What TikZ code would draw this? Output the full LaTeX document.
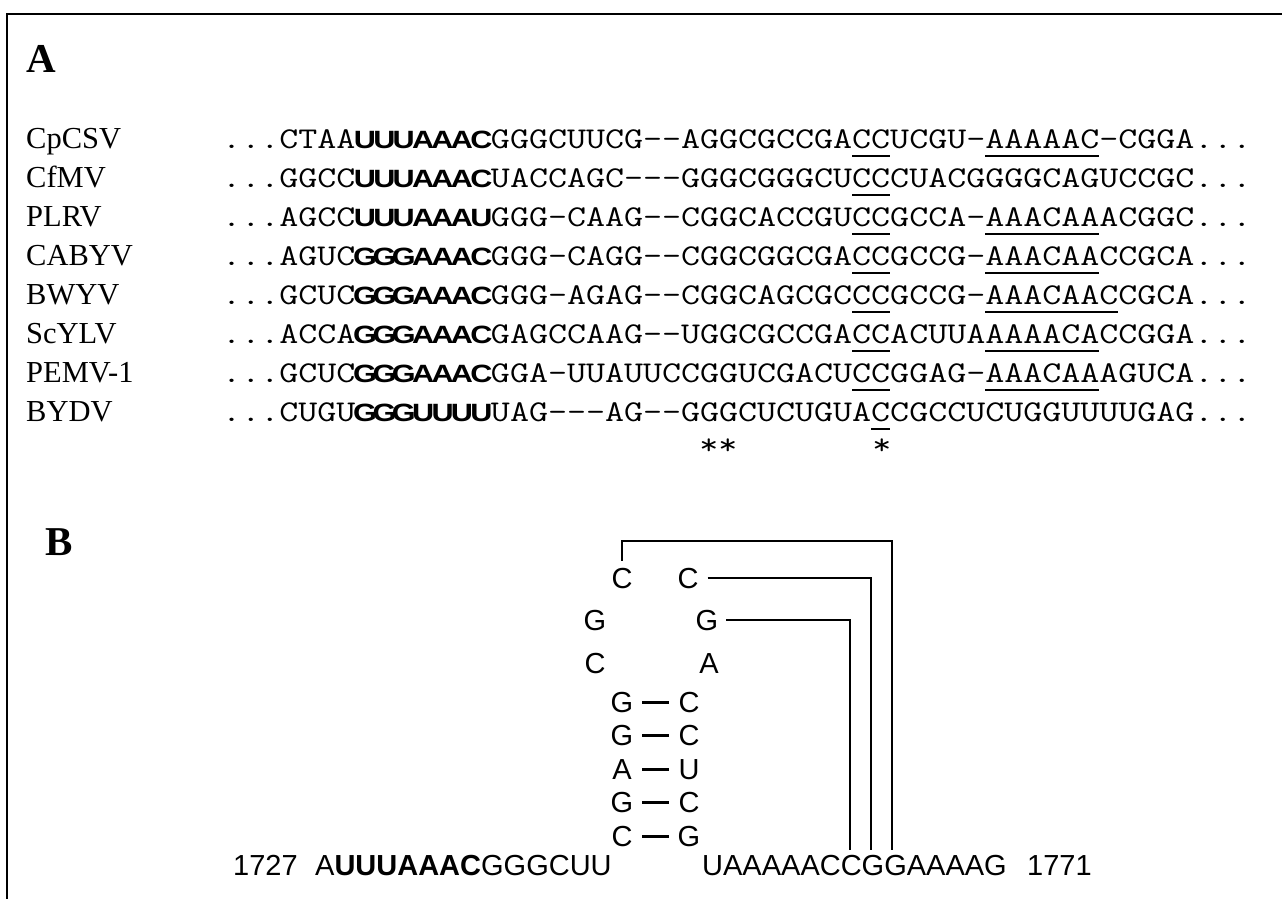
\documentclass[tikz,border=0pt]{standalone}
\usepackage{fontspec}
\setmainfont{Liberation Serif}
\setsansfont{Liberation Sans}
\newcommand\seqfnt{\ttfamily\fontsize{30.16}{36}\selectfont}
\newcommand\bc[1]{\makebox[15.834pt][c]{\sffamily\bfseries\fontsize{25}{30}\selectfont#1}}
\def\bs#1{\ifx#1\relax\else\bc{#1}\expandafter\bs\fi}
\newcommand\ul[1]{\setbox0\hbox{#1}\rlap{\rule[-8.5pt]{\wd0}{1.8pt}}\box0}
\begin{document}
\begin{tikzpicture}[x=1pt,y=-1pt,
 nm/.style={anchor=base west,inner sep=0pt,font=\fontsize{30.5}{36}\selectfont},
 sq/.style={anchor=base west,inner sep=0pt,font=\seqfnt,xscale=1.224,transform shape},
 lab/.style={anchor=base west,inner sep=0pt,font=\fontsize{41}{48}\selectfont\bfseries},
 nt/.style={anchor=base,inner sep=0pt,font=\sffamily\fontsize{29}{34}\selectfont},
 pl/.style={nt,minimum width=22pt},
 bp/.style={line width=3pt,shorten <=9pt,shorten >=9pt},
 br/.style={line width=1.3pt},
 frame/.style={line width=2.5pt}]
\useasboundingbox (0,0) rectangle (1282,898);
\draw[frame] (7,899) -- (7,14) -- (1283,14);
% panel labels
\node[lab] (A) at (26,72) {A};
\node[lab] (B) at (45,555) {B};
% alignment
\node[nm] (n1) at (26,148) {CpCSV};
\node[nm] (n2) at (26,187) {CfMV};
\node[nm] (n3) at (26,226) {PLRV};
\node[nm] (n4) at (26,265) {CABYV};
\node[nm] (n5) at (26,304) {BWYV};
\node[nm] (n6) at (26,343) {ScYLV};
\node[nm] (n7) at (26,382) {PEMV-1};
\node[nm] (n8) at (26,421) {BYDV};
\node[sq] (s1) at (222,148) {...CTAA\bs UUUAAAC\relax GGGCUUCG--AGGCGCCGA\ul{CC}UCGU-\ul{AAAAAC}-CGGA...};
\node[sq] (s2) at (222,187) {...GGCC\bs UUUAAAC\relax UACCAGC---GGGCGGGCU\ul{CC}CUACGGGGCAGUCCGC...};
\node[sq] (s3) at (222,226) {...AGCC\bs UUUAAAU\relax GGG-CAAG--CGGCACCGU\ul{CC}GCCA-\ul{AAACAA}ACGGC...};
\node[sq] (s4) at (222,265) {...AGUC\bs GGGAAAC\relax GGG-CAGG--CGGCGGCGA\ul{CC}GCCG-\ul{AAACAA}CCGCA...};
\node[sq] (s5) at (222,304) {...GCUC\bs GGGAAAC\relax GGG-AGAG--CGGCAGCGC\ul{CC}GCCG-\ul{AAACAAC}CGCA...};
\node[sq] (s6) at (222,343) {...ACCA\bs GGGAAAC\relax GAGCCAAG--UGGCGCCGA\ul{CC}ACUUA\ul{AAAACA}CCGGA...};
\node[sq] (s7) at (222,382) {...GCUC\bs GGGAAAC\relax GGA-UUAUUCCGGUCGACU\ul{CC}GGAG-\ul{AAACAA}AGUCA...};
\node[sq] (s8) at (222,421) {...CUGU\bs GGGUUUU\relax UAG---AG--GGGCUCUGUA\ul{C}CGCCUCUGGUUUUGAG...};
\node[sq] (st1) at (699,454) {**};
\node[sq] (st2) at (872,454) {*};
% structure
\node[nt] (c1) at (622,588) {C};
\node[nt] (c2) at (688,588) {C};
\node[nt] (g1) at (595,630) {G};
\node[nt] (g2) at (707,630) {G};
\node[nt] (c3) at (595,673) {C};
\node[nt] (a1) at (709,673) {A};
\node[pl] (l1) at (622,712) {G};
\node[pl] (r1) at (689,712) {C};
\node[pl] (l2) at (622,745) {G};
\node[pl] (r2) at (689,745) {C};
\node[pl] (l3) at (622,779) {A};
\node[pl] (r3) at (689,779) {U};
\node[pl] (l4) at (622,812) {G};
\node[pl] (r4) at (689,812) {C};
\node[pl] (l5) at (622,846) {C};
\node[pl] (r5) at (689,846) {G};
\foreach \i in {1,...,5}{\draw[bp] (l\i.east) -- (l\i.east -| r\i.west);}
\node[nt,anchor=base west] (p1) at (233,875) {1727};
\node[nt,anchor=base west] (sL) at (315,875) {A\textbf{UUUAAAC}GGGCUU};
\node[nt,anchor=base west] (sR) at (702,875) {UAAAAACCGGAAAAG};
\node[nt,anchor=base west] (p2) at (1027,875) {1771};
\coordinate (e1) at (892,850);
\coordinate (e2) at (871,850);
\coordinate (e3) at (850,850);
\coordinate (tp) at (892,541);
\draw[br] ([yshift=7pt]c1.north) -- (c1.north |- tp) -- (tp) -- (e1);
\draw[br] ([xshift=9pt]c2.east) -- (e2 |- c2.east) -- (e2);
\draw[br] ([xshift=8pt]g2.east) -- (e3 |- g2.east) -- (e3);
\end{tikzpicture}
\end{document}
